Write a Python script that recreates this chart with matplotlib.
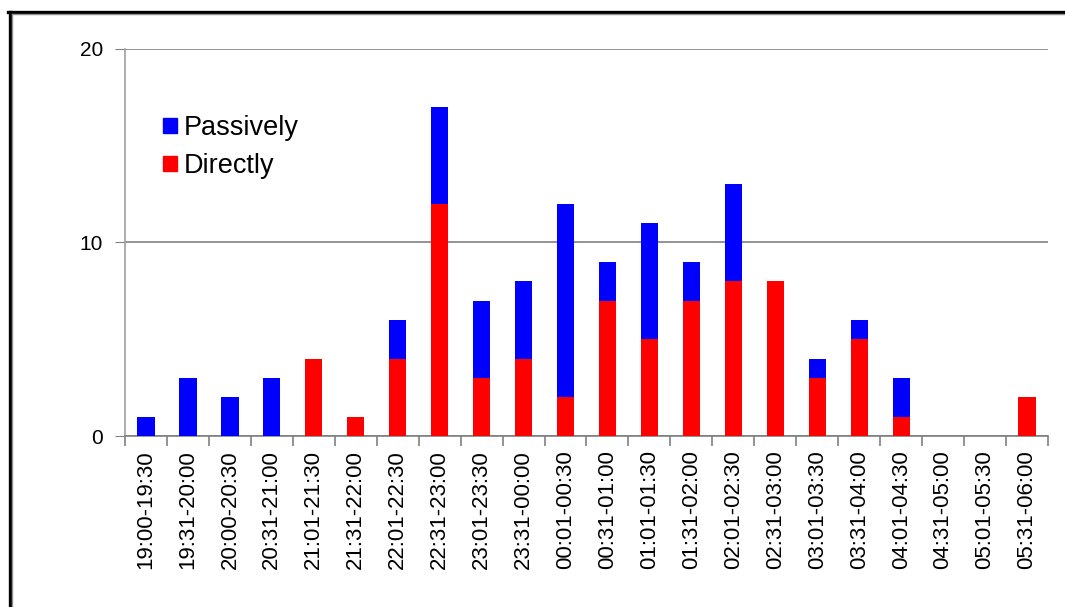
import matplotlib
matplotlib.use("Agg")
import matplotlib.pyplot as plt
import numpy as np
from matplotlib.lines import Line2D
from matplotlib.patches import Patch

plt.rcParams['font.family'] = ['Liberation Sans', 'DejaVu Sans']

intervals = ["19:00-19:30", "19:31-20:00", "20:00-20:30", "20:31-21:00",
             "21:01-21:30", "21:31-22:00", "22:01-22:30", "22:31-23:00",
             "23:01-23:30", "23:31-00:00", "00:01-00:30", "00:31-01:00",
             "01:01-01:30", "01:31-02:00", "02:01-02:30", "02:31-03:00",
             "03:01-03:30", "03:31-04:00", "04:01-04:30", "04:31-05:00",
             "05:01-05:30", "05:31-06:00"]
directly = [0, 0, 0, 0, 4, 1, 4, 12, 3, 4, 2, 7, 5, 7, 8, 8, 3, 5, 1, 0, 0, 2]
passively = [1, 3, 2, 3, 0, 0, 2, 5, 4, 4, 10, 2, 6, 2, 5, 0, 1, 1, 2, 0, 0, 0]
yticks = [0, 10, 20]

W, H = 1065, 607
fig = plt.figure(figsize=(W / 100, H / 100), dpi=100)
ax = fig.add_axes([0.1174, 0.2817, 0.8666, 0.6376])

x = np.arange(len(intervals))
w = 0.41
ax.bar(x, directly, w, color='#FF0000', label='Directly', zorder=3)
ax.bar(x, passively, w, bottom=directly, color='#0000FF', label='Passively', zorder=3)

ax.set_xlim(-0.5, len(intervals) - 0.5)
ax.set_ylim(0, 20)
ax.set_yticks(yticks)
ax.yaxis.grid(True, color='#808080', linewidth=1.2, zorder=0)
ax.tick_params(axis='y', length=7, color='#808080', labelsize=15, pad=9)

# category labels centred under each bar, tick marks between categories
ax.set_xticks(x)
ax.set_xticklabels(intervals, rotation=90, fontsize=16)
ax.tick_params(axis='x', which='major', length=0, pad=10)
ax.set_xticks(np.arange(-0.5, len(intervals)), minor=True)
ax.tick_params(axis='x', which='minor', length=7, color='#808080', width=1.2)

for side in ['top', 'right']:
    ax.spines[side].set_visible(False)
ax.spines['left'].set_color('#A0A0A0')
ax.spines['bottom'].set_color('#808080')
ax.spines['left'].set_linewidth(1.2)
ax.spines['bottom'].set_linewidth(1.2)

handles = [Patch(color='#0000FF'), Patch(color='#FF0000')]
leg = ax.legend(handles, ['Passively', 'Directly'], loc='upper left',
                bbox_to_anchor=(163 / W, 1 - 115 / H),
                bbox_transform=fig.transFigure, frameon=False, fontsize=19.5,
                handlelength=0.5, handleheight=0.5, handletextpad=0.25,
                labelspacing=0.45, borderpad=0, borderaxespad=0)

# outer frame: thick black edge with a thin grey inner shadow
fig.add_artist(Line2D([9.5 / W, 9.5 / W], [0, 1 - 11.5 / H], color='black',
                      linewidth=2.4, transform=fig.transFigure))
fig.add_artist(Line2D([8 / W, 1], [1 - 11.5 / H, 1 - 11.5 / H], color='black',
                      linewidth=2.4, transform=fig.transFigure))
fig.add_artist(Line2D([12 / W, 12 / W], [0, 1 - 13.5 / H], color='#909090',
                      linewidth=1.0, transform=fig.transFigure))
fig.add_artist(Line2D([12 / W, 1], [1 - 13.5 / H, 1 - 13.5 / H], color='#909090',
                      linewidth=1.0, transform=fig.transFigure))

fig.savefig('out.png', dpi=100)
